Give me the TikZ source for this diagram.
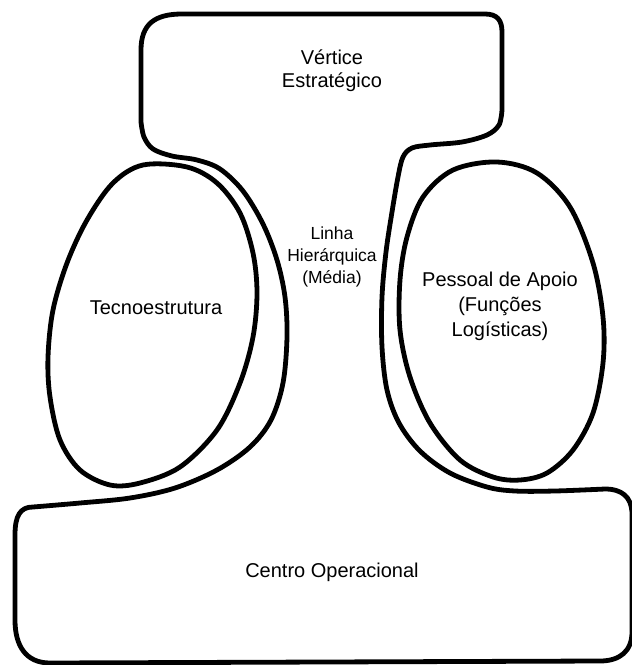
\documentclass[tikz,border=0pt]{standalone}
\usepackage{fontspec}
\setmainfont{Liberation Sans}
\begin{document}
\begin{tikzpicture}[x=1pt,y=-1pt,
  outline/.style={line width=4.8pt, line join=round, line cap=round},
  bigtext/.style={font=\fontsize{20}{23}\selectfont, align=center, inner sep=0pt},
  widetext/.style={font=\fontsize{20}{25}\selectfont, align=center, inner sep=0pt},
  midtext/.style={font=\fontsize{17.5}{22}\selectfont, align=center, inner sep=0pt}]
\useasboundingbox (0,0) rectangle (632,665);

% Outer contour: strategic apex, middle line and operating core in one stroke
\draw[outline]
  (182,14) -- (485,14)
  .. controls (497,14) and (502,20) .. (502,32)
  -- (502,110)
  -- plot[smooth, tension=0.55] coordinates {(502,110) (499,125) (487,135) (462,142) (430,145) (412,148) (403,157) (398,177) (392,212) (386,252) (382,297) (382,347) (387,390) (399,423) (420,451) (450,473) (487,487) (515,491) (555,491) (605,489)}
  .. controls (622,489) and (631,497) .. (632,512)
  -- (632,632)
  .. controls (632,651) and (620,661) .. (600,661)
  -- (50,663)
  .. controls (26,663) and (15,646) .. (15,620)
  -- (15,535)
  .. controls (15,516) and (20,507) .. (33,507)
  -- plot[smooth, tension=0.55] coordinates {(33,507) (80,503) (130,498) (175,488) (217,470) (250,447) (271,420) (283,383) (287,337) (285,297) (277,260) (263,224) (243,191) (220,169) (197,160) (172,156) (153,149) (144,137) (141,122)}
  -- (141,50)
  .. controls (141,24) and (155,14) .. (182,14) -- cycle;

% Technostructure
\draw[outline] plot[smooth cycle, tension=0.55] coordinates {(143,165) (187,167) (217,183) (240,213) (253,253) (257,293) (253,337) (240,383) (217,430) (180,467) (140,483) (110,485) (80,470) (60,440) (50,397) (48,357) (53,310) (67,263) (87,220) (113,183)};

% Support staff
\draw[outline] plot[smooth cycle, tension=0.55] coordinates {(497,162) (537,173) (570,207) (593,263) (603,317) (603,363) (593,413) (573,450) (547,473) (520,480) (493,477) (460,460) (430,423) (410,377) (400,330) (400,280) (407,237) (423,197) (453,170)};

\node[bigtext] (vertice) at (332,71) {Vértice\\Estratégico};
\node[midtext] (linha) at (332,257) {Linha\\Hierárquica\\(Média)};
\node[bigtext] (tecno) at (156,308) {Tecnoestrutura};
\node[widetext] (apoio) at (500,306) {Pessoal de Apoio\\(Funções\\Logísticas)};
\node[bigtext] (centro) at (332,572) {Centro Operacional};
\end{tikzpicture}
\end{document}
